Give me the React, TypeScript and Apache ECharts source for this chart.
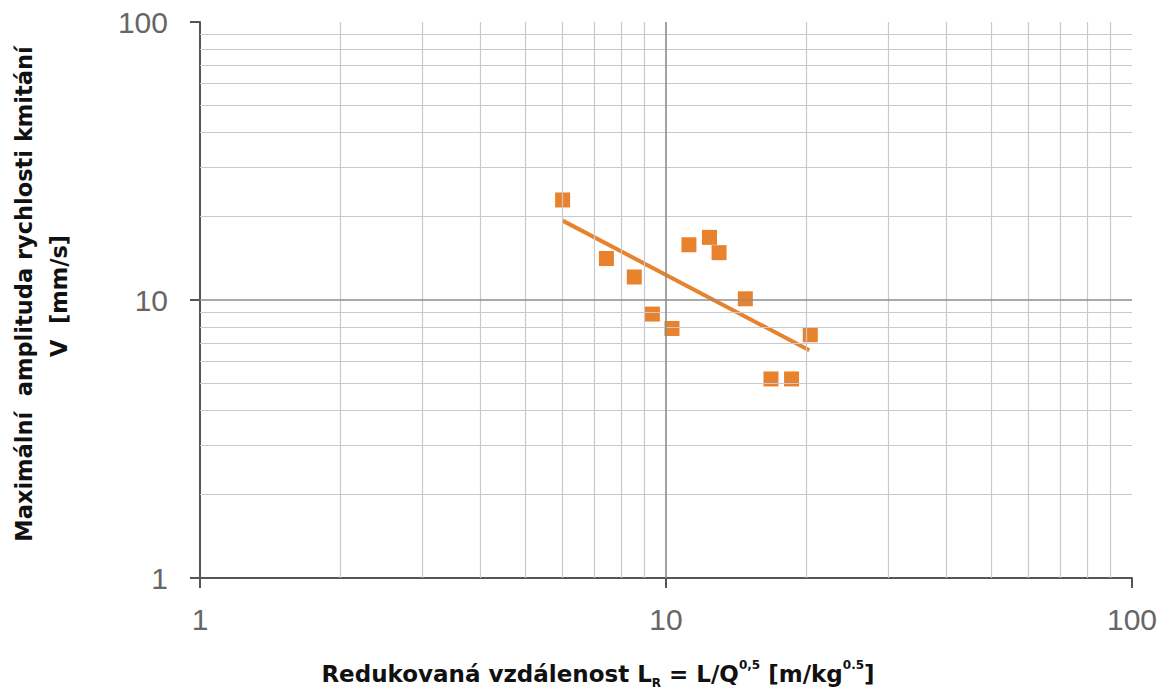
import React, { useEffect, useRef } from "react";
import * as echarts from "echarts";

// Measured points: reduced distance L_R [m/kg^0.5] vs peak particle velocity V [mm/s]
const distance = [6.0, 7.45, 8.55, 9.35, 10.3, 11.2, 12.4, 13.0, 14.8, 20.4, 16.8, 18.6];
const velocity = [22.9, 14.1, 12.1, 8.9, 7.9, 15.8, 16.8, 14.8, 10.1, 7.5, 5.2, 5.2];

// Power-law trend line end points
const trendX = [6.0, 20.3];
const trendY = [19.3, 6.6];

// Log grid lines
const minorX = [2, 3, 4, 5, 6, 7, 8, 9, 20, 30, 40, 50, 60, 70, 80, 90];
const minorY = [2, 3, 4, 5, 6, 7, 8, 9, 20, 30, 40, 50, 60, 70, 80, 90];
const majorX = [10];
const majorY = [10];

const xTitle = "{b|Redukovaná vzdálenost L}{sub|R}{b| = L/Q}{sup|0,5}{b| [m/kg}{sup|0.5}{b|]}";
const yTitle1 = "Maximální  amplituda rychlosti kmitání";
const yTitle2 = "V  [mm/s]";

const ORANGE = "#E8822C";

export default function App() {
  const ref = useRef<HTMLDivElement>(null);
  useEffect(() => {
    if (!ref.current) return;
    const chart = echarts.init(ref.current, undefined, { renderer: "svg" });
    const minorStyle = { color: "#c7c8d2", width: 1.2, type: "solid" as const };
    const majorStyle = { color: "#8c8c8c", width: 1.6, type: "solid" as const };
    const gridLines = [
      ...minorX.map((v) => ({ xAxis: v, lineStyle: minorStyle })),
      ...minorY.map((v) => ({ yAxis: v, lineStyle: minorStyle })),
      ...majorX.map((v) => ({ xAxis: v, lineStyle: majorStyle })),
      ...majorY.map((v) => ({ yAxis: v, lineStyle: majorStyle })),
    ];
    const labelFont = {
      fontFamily: "Liberation Sans, Arial, sans-serif",
      color: "#666",
    };
    const titleFont = "DejaVu Sans, Verdana, sans-serif";
    chart.setOption({
      animation: false,
      grid: { left: 200, right: 28, top: 22, bottom: 115 },
      xAxis: {
        type: "log",
        logBase: 10,
        min: 1,
        max: 100,
        axisLine: { show: true, lineStyle: { color: "#555", width: 2 } },
        axisTick: { show: true, length: 10, lineStyle: { color: "#555", width: 2 } },
        splitLine: { show: false },
        minorTick: { show: false },
        minorSplitLine: { show: false },
        axisLabel: { ...labelFont, fontSize: 30, margin: 26 },
      },
      yAxis: {
        type: "log",
        logBase: 10,
        min: 1,
        max: 100,
        axisLine: { show: true, lineStyle: { color: "#555", width: 2 } },
        axisTick: { show: true, length: 10, lineStyle: { color: "#555", width: 2 } },
        splitLine: { show: false },
        minorTick: { show: false },
        minorSplitLine: { show: false },
        axisLabel: { ...labelFont, fontSize: 30, margin: 32 },
      },
      series: [
        {
          type: "line",
          data: [],
          silent: true,
          z: 1,
          markLine: {
            silent: true,
            symbol: ["none", "none"],
            label: { show: false },
            animation: false,
            data: gridLines,
          },
        },
        {
          type: "line",
          data: trendX.map((x, i) => [x, trendY[i]]),
          showSymbol: false,
          symbol: "none",
          lineStyle: { color: ORANGE, width: 4 },
          z: 3,
        },
        {
          type: "scatter",
          data: distance.map((x, i) => [x, velocity[i]]),
          symbol: "rect",
          symbolSize: 15,
          itemStyle: { color: ORANGE, opacity: 1 },
          z: 4,
        },
      ],
      graphic: [
        {
          type: "text",
          x: 598,
          y: 674,
          style: {
            text: xTitle,
            align: "center",
            verticalAlign: "middle",
            rich: {
              b: { fontFamily: titleFont, fontWeight: "bold", fontSize: 23, fill: "#111", lineHeight: 30 },
              sub: { fontFamily: titleFont, fontWeight: "bold", fontSize: 12, fill: "#111", lineHeight: 30, verticalAlign: "bottom" },
              sup: { fontFamily: titleFont, fontWeight: "bold", fontSize: 12, fill: "#111", lineHeight: 30, verticalAlign: "top" },
            },
          },
        },
        {
          type: "text",
          x: 24,
          y: 294,
          rotation: Math.PI / 2,
          style: {
            text: yTitle1,
            fontFamily: titleFont,
            fontWeight: "bold",
            fontSize: 22.5,
            fill: "#111",
            align: "center",
            verticalAlign: "middle",
          },
        },
        {
          type: "text",
          x: 59,
          y: 296,
          rotation: Math.PI / 2,
          style: {
            text: yTitle2,
            fontFamily: titleFont,
            fontWeight: "bold",
            fontSize: 22.5,
            fill: "#111",
            align: "center",
            verticalAlign: "middle",
          },
        },
      ],
    });
    return () => chart.dispose();
  }, []);
  return (
    <div
      ref={ref}
      style={{ position: "absolute", left: 0, top: 0, width: 1160, height: 693 }}
    />
  );
}
